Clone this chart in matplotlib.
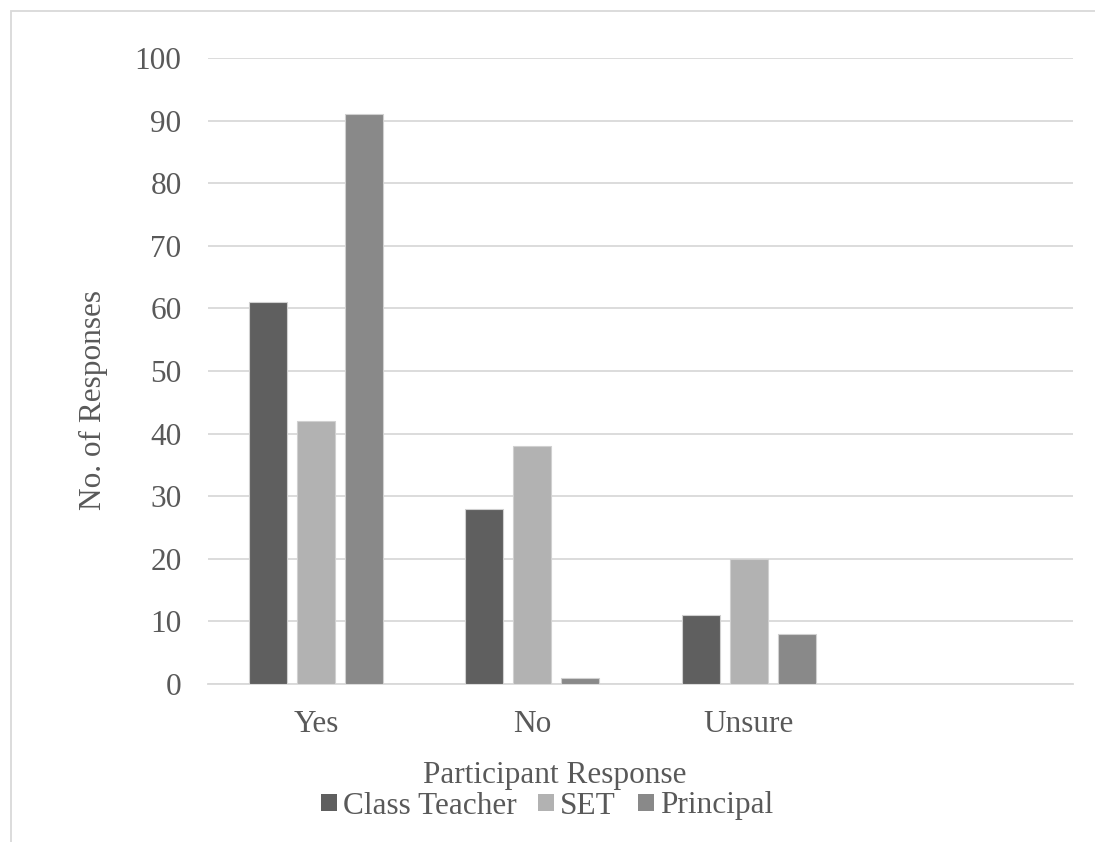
import matplotlib.pyplot as plt
import numpy as np
from matplotlib.patches import Rectangle

plt.rcParams['font.family'] = ['Liberation Serif', 'DejaVu Serif']

categories = ['Yes', 'No', 'Unsure', '']
series_names = ['Class Teacher', 'SET', 'Principal']
class_teacher = [61, 28, 11]
set_staff = [42, 38, 20]
principal = [91, 1, 8]
yticks = list(range(0, 101, 10))

colors = ['#5f5f5f', '#b2b2b2', '#898989']
text_col = '#595959'
fs = 22.5

fig = plt.figure(figsize=(10.95, 8.42), dpi=100)
W, H = 1095, 842
ax = fig.add_axes([208 / W, 1 - 684 / H, (1073 - 208) / W, (684 - 58) / H])

x = np.arange(len(categories))
width = 38 / 216
pitch = 48 / 216
for i, (vals, name) in enumerate(zip([class_teacher, set_staff, principal], series_names)):
    xs = x[:len(vals)] + (i - 1) * pitch
    ax.bar(xs, vals, width, color=colors[i], edgecolor='#d0d0d0', linewidth=0.8,
           label=name, zorder=3)

ax.set_xlim(-0.5, len(categories) - 0.5)
ax.set_ylim(0, 100)
ax.set_yticks(yticks)
ax.set_xticks(x)
ax.set_xticklabels(categories)
ax.yaxis.grid(True, color='#d9d9d9', linewidth=1.3, zorder=0)
ax.set_axisbelow(True)
for s in ['top', 'right', 'left']:
    ax.spines[s].set_visible(False)
ax.spines['bottom'].set_color('#d9d9d9')
ax.spines['bottom'].set_linewidth(1.3)
ax.tick_params(axis='both', length=0, labelsize=fs, colors=text_col)
ax.tick_params(axis='y', pad=19)
ax.tick_params(axis='x', pad=19)

ax.set_ylabel('No. of Responses', fontsize=fs, color=text_col)
ax.yaxis.set_label_coords((93 - 208) / (1073 - 208), 0.454)
ax.set_xlabel('Participant Response', fontsize=fs, color=text_col)
ax.xaxis.set_label_coords((555 - 208) / (1073 - 208), -(776 - 684) / (684 - 58))
ax.xaxis.label.set_va('center')
ax.yaxis.label.set_va('center')

leg = fig.legend(loc='center', bbox_to_anchor=(547 / W, 1 - 806 / H), ncol=3,
                 frameon=False, fontsize=fs, handlelength=0.5, handleheight=0.5,
                 handletextpad=0.2, columnspacing=0.7, labelcolor=text_col,
                 borderpad=0, borderaxespad=0)
for h in leg.legend_handles:
    h.set_edgecolor('none')

# outer chart frame
fig.patches.append(Rectangle((11 / W, -0.1), 1.2, 1 - 11 / H + 0.1,
                             transform=fig.transFigure, fill=False,
                             edgecolor='#d9d9d9', linewidth=1.3))

fig.savefig('out.png', dpi=100)
